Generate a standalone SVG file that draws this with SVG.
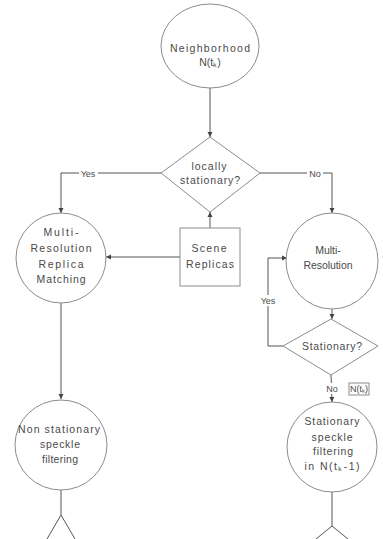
<svg xmlns="http://www.w3.org/2000/svg" width="383" height="539" viewBox="0 0 383 539">
<style>
.n{fill:#fff;stroke:#8c8c8c;stroke-width:1}
.t{font-family:"Liberation Sans",Arial,sans-serif;font-size:10.5px;fill:#4a4a4a;text-anchor:middle}
.c{fill:none;stroke:#555;stroke-width:1}
.lb{font-family:"Liberation Sans",Arial,sans-serif;font-size:9px;fill:#4a4a4a;text-anchor:middle}
</style>
<defs>
<marker id="a" markerWidth="6" markerHeight="6" refX="5" refY="3" orient="auto" markerUnits="userSpaceOnUse">
<path d="M0,0.5 L5,3 L0,5.5 Z" fill="#444"/>
</marker>
</defs>
<rect width="383" height="539" fill="#fff"/>
<g id="connectors">
<line class="c" x1="210" y1="88" x2="210" y2="137" marker-end="url(#a)"/>
<polyline class="c" points="161,173 61,173 61,213" marker-end="url(#a)"/>
<polyline class="c" points="260,173 332,173 332,213" marker-end="url(#a)"/>
<line class="c" x1="210" y1="228" x2="210" y2="212" marker-end="url(#a)"/>
<line class="c" x1="180" y1="257" x2="106" y2="257" marker-end="url(#a)"/>
<line class="c" x1="61" y1="303" x2="61" y2="399" marker-end="url(#a)"/>
<line class="c" x1="332" y1="309" x2="332" y2="319" marker-end="url(#a)"/>
<polyline class="c" points="283,346 268,346 268,258 287,258" marker-end="url(#a)"/>
<line class="c" x1="331" y1="375" x2="332" y2="402" marker-end="url(#a)"/>
<polyline class="c" points="47,539 61,515 75,539"/>
<line class="c" x1="61" y1="490" x2="61" y2="515"/>
<polyline class="c" points="316,539 332,526 348,539"/>
<line class="c" x1="332" y1="492" x2="332" y2="526"/>
<rect x="79" y="168" width="19" height="11" fill="#fff"/>
<text class="lb" x="88" y="177">Yes</text>
<rect x="307" y="168" width="16" height="11" fill="#fff"/>
<text class="lb" x="315" y="177">No</text>
<rect x="259" y="295" width="18" height="11" fill="#fff"/>
<text class="lb" x="268" y="304">Yes</text>
<rect x="324" y="383" width="16" height="11" fill="#fff"/>
<text class="lb" x="332" y="392">No</text>
</g>
<g id="neighborhood">
<ellipse class="n" cx="210" cy="46" rx="49" ry="42"/>
<text class="t" x="210" y="52" textLength="80">Neighborhood</text>
<text class="t" x="210" y="66">N(tₖ)</text>
</g>
<g id="locally-stationary">
<polygon class="n" points="210,137 260,173 210,212 161,173"/>
<text class="t" x="209" y="170" textLength="35">locally</text>
<text class="t" x="210" y="184" textLength="60">stationary?</text>
</g>
<g id="scene-replicas">
<rect class="n" x="180" y="228" width="60" height="58"/>
<text class="t" x="209" y="252" textLength="35">Scene</text>
<text class="t" x="210" y="268" textLength="48">Replicas</text>
</g>
<g id="mr-replica-matching">
<ellipse class="n" cx="61" cy="258" rx="45" ry="45"/>
<text class="t" x="61" y="236" textLength="35">Multi-</text>
<text class="t" x="61" y="252" textLength="61">Resolution</text>
<text class="t" x="61" y="268" textLength="45">Replica</text>
<text class="t" x="61" y="283" textLength="49">Matching</text>
</g>
<g id="multi-resolution">
<ellipse class="n" cx="332" cy="261" rx="46" ry="48"/>
<text class="t" x="328" y="254" font-size="9.5">Multi-</text>
<text class="t" x="328" y="269" font-size="9.5" textLength="49">Resolution</text>
</g>
<g id="stationary">
<polygon class="n" points="331,319 378,346 331,375 283,346"/>
<text class="t" x="332" y="350" textLength="60">Stationary?</text>
</g>
<g id="ntk-box">
<rect class="n" x="349" y="383" width="20" height="12"/>
<text class="lb" x="359" y="392" font-size="8">N(tₖ)</text>
</g>
<g id="non-stationary-filtering">
<ellipse class="n" cx="61" cy="445" rx="46" ry="45"/>
<text class="t" x="59" y="433" textLength="82">Non stationary</text>
<text class="t" x="60" y="448" textLength="40">speckle</text>
<text class="t" x="60" y="463" textLength="36">filtering</text>
</g>
<g id="stationary-filtering">
<ellipse class="n" cx="332" cy="447" rx="45" ry="45"/>
<text class="t" x="332" y="425" textLength="55">Stationary</text>
<text class="t" x="332" y="441" textLength="41">speckle</text>
<text class="t" x="333" y="455" textLength="40">filtering</text>
<text class="t" x="332" y="470" textLength="55">in N(tₖ-1)</text>
</g>
</svg>
